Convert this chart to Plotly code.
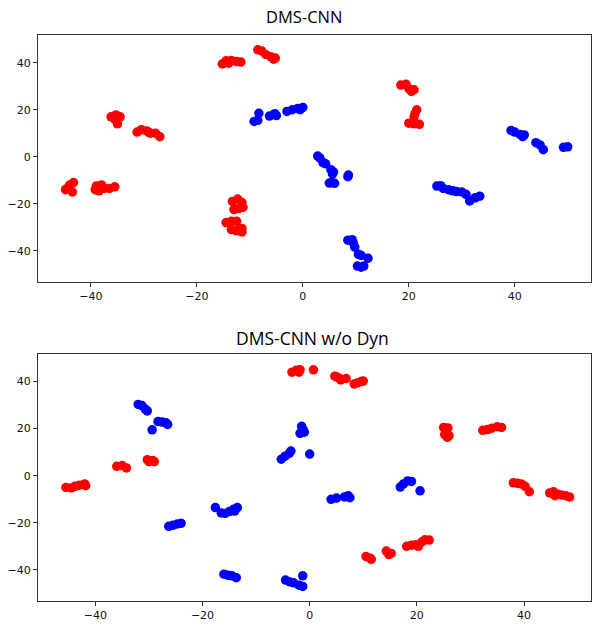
import plotly.graph_objects as go

# ---- Top panel: DMS-CNN ----
top_red_x = [-44.5, -44, -43.3, -43.5, -44.8,
             -39.2, -39, -38, -37.5, -36.5, -35.5, -38.5,
             -13.3, -12.3, -11.5, -11.3, -13, -12,
             -14.5, -13.5, -12.5,
             -13.5, -12.5, -11.5, -11.5,
             -36.2, -35.3, -34.5, -35, -35.5,
             -31.3, -30.5, -29.5, -28.8, -27.8, -27, -29,
             -15.2, -14.5, -13.5, -12.5, -11.7, -14,
             -8.5, -7.8, -7, -6, -5.2, -5.5,
             18.5, 19.5, 20, 21, 20.5,
             21.5, 21.2, 21, 20, 21, 22]
top_red_y = [-13.5, -12, -11, -15, -14,
             -14, -12.5, -12, -13.5, -13.5, -12.8, -14.5,
             -19, -18, -19.5, -21.5, -22.5, -22,
             -28, -27.5, -27.5,
             -31, -31.5, -32, -30.5,
             17, 17.8, 17, 14, 16,
             10.5, 11.5, 11, 10, 10, 8.5, 10.3,
             39.5, 40.8, 41, 40.5, 40.3, 39.8,
             45.5, 45, 43.5, 42.5, 42, 41.5,
             30.5, 30.8, 29, 28.5, 27.8,
             20, 18.5, 17, 14.3, 14, 13.8]

top_blue_x = [-9.2, -8.5, -8.3,
              -6.3, -5.3, -5,
              -3, -2, -1, 0, -0.5,
              39.3, 40, 41, 41.5, 41.8,
              44, 44.8, 45.4,
              49.2, 50,
              2.8, 3.2, 3.8, 4.3,
              5.3, 5.8, 5.6,
              5, 6, 5.5,
              8.6, 8.5,
              8.5, 9.3, 9.5, 9.8, 10.5, 11, 12.3, 10.3, 11, 11.5,
              25.3, 26, 26.5, 27.5, 28.3, 29, 30, 30.8, 31.5, 32.5, 33.4]
top_blue_y = [15, 15.5, 18.5,
              17.3, 18.3, 17.5,
              19.3, 20, 20.5, 21, 20,
              11.2, 10.5, 9.5, 8.5, 9.3,
              6, 5, 3,
              4, 4.2,
              0.3, -0.5, -2.5, -3,
              -5.5, -6.5, -7.3,
              -11.2, -11.3, -11,
              -7.8, -8.5,
              -35.5, -35.3, -36.5, -38.5, -41.5, -42, -43.2, -46.5, -47, -46.5,
              -12.5, -12.3, -13.5, -14, -14.5, -14.8, -15, -16, -18.8, -17.5, -16.8]

# ---- Bottom panel: DMS-CNN w/o Dyn ----
bot_red_x = [-3.3, -2.5, -2, -1.8,
             0.7,
             4.7, 5.5, 5.8, 6.8, 5,
             8.3, 9, 9.6, 10,
             25, 25.8, 25.2, 25.7, 26,
             32.3, 33.2, 34, 35, 35.8,
             -36, -35, -34.2,
             -30.3, -29.3, -29, -30,
             -45.5, -44.5, -43.8, -43, -42, -41.8,
             10.5, 11.3, 11.5,
             14.3, 14.8, 15.2,
             18.1, 19, 19.8, 20.3, 21, 21.5, 22.3,
             38, 38.8, 39.5, 40.2, 41,
             44.8, 45.5, 46.2, 47, 47.8, 48.5, 45.8]
bot_red_y = [44, 44.8, 44, 45,
             45,
             42.3, 41.5, 40.7, 41.3, 42,
             39, 39.5, 40, 40.2,
             20.5, 20.3, 17.5, 16.3, 17,
             19.3, 19.6, 20.2, 20.8, 20.5,
             4, 4.3, 3.3,
             6.8, 6.5, 6, 6,
             -5, -5.2, -4.5, -4, -3.5, -4.2,
             -34.3, -35, -35.5,
             -32, -33.5, -33,
             -30, -29.5, -29.3, -30, -28, -27.2, -27.3,
             -3, -3.2, -3.5, -4.5, -6.8,
             -7.3, -6.8, -7.8, -8.2, -8.5, -9, -8.5]

bot_blue_x = [-32, -31.3, -30.7, -30.3, -28.3, -27.5, -26.8, -26.5, -29.4,
              -1.5, -1.2, -1.8, -1,
              -5.3, -4.6, -3.8, -3.5,
              0,
              -26.3, -25.5, -24.7, -24,
              -17.6, -16.5, -15.8, -15, -14.2, -13.5, -14,
              -16, -15.2, -14.5, -13.7,
              -4.5, -3.8, -3, -2, -1.3, -1.3,
              4, 5, 6.5, 7.2, 7.5,
              16.9, 17.5, 18.3, 19, 20.6]
bot_blue_y = [30.3, 29.8, 28.3, 27.5, 23, 22.8, 22.5, 21.8, 19.5,
              21, 19.5, 18, 18.5,
              7, 8.3, 9.5, 10.5,
              9.2,
              -21.5, -21, -20.5, -20.2,
              -13.5, -15.8, -16, -15.2, -14.2, -13.5, -15,
              -41.8, -42.3, -42.5, -43.3,
              -44.3, -45, -45.5, -46.5, -47, -42.5,
              -10, -9.5, -9, -8.5, -9.3,
              -4.8, -3.5, -2.2, -2.4, -6.4]

titles = ["DMS-CNN", "DMS-CNN w/o Dyn"]
tick_vals = [-40, -20, 0, 20, 40]

RED = "#ff0000"
BLUE = "#0000ff"
MSIZE = 9.5

fig = go.Figure()

def add(xs, ys, color, xa, ya):
    fig.add_trace(go.Scatter(x=xs, y=ys, mode="markers", xaxis=xa, yaxis=ya,
                             marker=dict(color=color, size=MSIZE, line=dict(width=0)),
                             showlegend=False, hoverinfo="skip"))

add(top_red_x, top_red_y, RED, "x", "y")
add(top_blue_x, top_blue_y, BLUE, "x", "y")
add(bot_red_x, bot_red_y, RED, "x2", "y2")
add(bot_blue_x, bot_blue_y, BLUE, "x2", "y2")

axis_common = dict(
    showgrid=False, zeroline=False, showline=True, mirror=True,
    linecolor="#333333", linewidth=1.2, automargin=False,
    ticks="outside", ticklen=4, tickwidth=1, tickcolor="#333333",
    tickvals=tick_vals,
    tickfont=dict(family="DejaVu Sans", size=11, color="#111111"),
)

fig.update_layout(
    template="none",
    width=592, height=626,
    margin=dict(l=38, r=1, t=35, b=25),
    paper_bgcolor="white", plot_bgcolor="white",
    xaxis=dict(domain=[0, 1], anchor="y", range=[-50.0, 54.4], **axis_common),
    yaxis=dict(domain=[0.5636, 1.0], anchor="x", range=[-53.3, 51.8], **axis_common),
    xaxis2=dict(domain=[0, 1], anchor="y2", range=[-50.7, 52.5], **axis_common),
    yaxis2=dict(domain=[0.0, 0.4364], anchor="x2", range=[-53.2, 51.7], **axis_common),
    annotations=[
        dict(text=titles[0], xref="paper", yref="paper", x=0.481, y=1.0,
             yshift=19, xanchor="center", yanchor="middle", showarrow=False,
             font=dict(family="Open Sans", size=16.5, color="black")),
        dict(text=titles[1], xref="paper", yref="paper", x=0.497, y=0.4364,
             yshift=15.5, xanchor="center", yanchor="middle", showarrow=False,
             font=dict(family="Open Sans", size=17.5, color="black")),
    ],
)

fig.write_html(
    "out.html",
    config={"displayModeBar": False},
    post_script="document.body.style.margin='0';document.body.style.overflow='hidden';"
                "document.documentElement.style.overflow='hidden';",
)
